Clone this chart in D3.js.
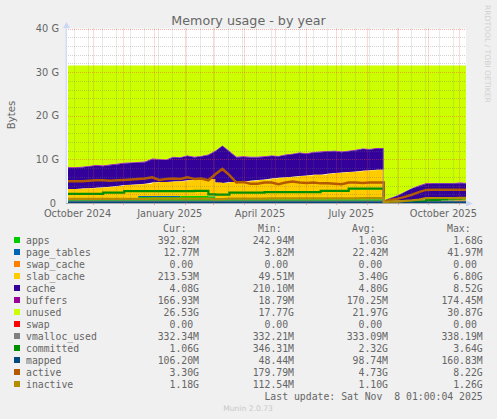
<!DOCTYPE html>
<html><head><meta charset="utf-8">
<script src="https://cdn.jsdelivr.net/npm/d3@7"></script>
<style>html,body{margin:0;padding:0;background:#f0f0f0}svg{display:block}text{white-space:pre}</style>
</head><body><div id="c"></div>
<script>
const dates = ["2024-10-07","2024-10-14","2024-10-21","2024-10-28","2024-11-04","2024-11-11","2024-11-18","2024-11-25","2024-12-02","2024-12-09","2024-12-16","2024-12-23","2024-12-30","2025-01-06","2025-01-13","2025-01-20","2025-01-27","2025-02-03","2025-02-10","2025-02-17","2025-02-24","2025-03-03","2025-03-10","2025-03-17","2025-03-24","2025-03-31","2025-04-07","2025-04-14","2025-04-21","2025-04-28","2025-05-05","2025-05-12","2025-05-19","2025-05-26","2025-06-02","2025-06-09","2025-06-16","2025-06-23","2025-06-30","2025-07-07","2025-07-14","2025-07-21","2025-07-28","2025-08-04","2025-08-11","2025-08-18","2025-08-25","2025-09-01","2025-09-08","2025-09-15","2025-09-22","2025-09-29","2025-10-06","2025-10-13","2025-10-20","2025-10-27","2025-11-03","2025-11-08"];
// upper edges of the stacked bands, in GB
const appsTop = [.85,.85,.85,.85,.85,.85,.85,.85,.85,.85,1.35,1.35,1.35,1.35,1.35,1.35,1.6,1.6,1.6,1.6,1.5,.85,.85,.85,.85,.85,.85,.85,.85,.85,.85,.85,.85,.85,.85,.85,.85,.85,.85,.85,.85,.85,.85,.85,.85,.35,.3,.3,.3,.35,.4,.55,.55,.55,.55,.4,.4,.4];
const pageTablesTop = [.87,.87,.87,.87,.87,.87,.87,.87,.87,.87,1.58,1.58,1.58,1.58,1.58,1.58,1.62,1.62,1.62,1.62,1.52,.87,.87,.87,.87,.87,.87,.87,.87,.87,.87,.87,.87,.87,.87,.87,.87,.87,.87,.87,.87,.87,.87,.87,.87,.36,.31,.31,.31,.36,.41,.56,.56,.56,.56,.41,.41,.41];
const slabTop = [3.2,3.2,3.3,3.4,3.5,3.6,3.7,3.9,4.1,4.2,4.3,4.4,4.7,4.8,4.8,4.9,5.0,5.2,5.3,5.4,5.5,4.7,4.6,4.8,4.8,4.9,5.1,5.3,5.4,5.6,5.8,5.9,6.0,6.2,6.3,6.5,6.5,6.7,6.9,7.0,7.1,7.2,7.4,7.5,7.6,.5,.6,.6,.6,.7,.7,.9,.9,1.0,1.0,.9,.9,.8];
const buffersTop = [8.2,8.2,8.3,8.5,8.7,8.6,8.8,9.0,9.2,9.3,9.4,9.5,10.2,10.1,10.0,10.6,10.5,10.9,10.6,10.8,11.1,12.0,13.2,11.9,10.6,10.7,10.6,10.6,10.7,10.9,10.8,11.1,11.3,11.6,11.4,11.7,11.8,11.9,12.0,11.8,12.0,12.2,12.5,12.4,12.6,.6,1.2,1.8,2.6,3.4,4.0,4.5,4.6,4.6,4.6,4.6,4.7,4.6];
const cacheTop = [8.05,8.05,8.15,8.35,8.55,8.45,8.65,8.85,9.05,9.15,9.25,9.35,10.05,9.95,9.85,10.45,10.35,10.75,10.45,10.65,10.95,11.85,13.05,11.75,10.45,10.55,10.45,10.45,10.55,10.75,10.65,10.95,11.15,11.45,11.25,11.55,11.65,11.75,11.85,11.65,11.85,12.05,12.35,12.25,12.45,.55,1.1,1.7,2.5,3.3,3.85,4.35,4.45,4.45,4.45,4.45,4.55,4.45];
const unusedTop = [31.5];
const vmallocUsed = [.33];
const committed = [2.1,2.1,2.1,2.1,2.1,2.4,2.4,2.4,2.7,2.7,2.7,2.7,2.7,2.7,2.7,2.7,2.7,2.7,2.8,2.8,2.0,1.9,1.9,2.4,2.4,2.4,2.4,2.4,2.5,2.5,2.5,2.5,2.5,2.5,2.5,2.5,2.8,2.8,2.8,2.8,3.3,3.3,3.3,3.3,3.3,.2,.15,.15,.3,.3,.3,.7,.7,.9,1.0,1.0,1.06,1.06];
const mapped = [.11];
const active = [5.0,5.0,5.0,5.1,5.2,5.2,5.1,5.2,5.3,5.4,5.5,5.6,5.9,5.3,5.5,5.6,5.5,5.9,5.5,5.6,5.2,6.6,7.8,6.4,4.7,4.8,4.4,4.4,4.7,4.7,4.3,4.7,4.9,4.7,4.6,4.7,4.5,4.5,4.4,4.3,4.7,4.7,4.6,4.7,4.7,.3,.7,1.0,1.4,1.9,2.5,3.0,3.05,3.05,3.05,3.05,3.05,3.05];
const inactive = [.95,.95,.95,.95,.95,.95,.95,.95,.95,.95,.95,.95,1.0,1.0,1.0,1.0,1.0,1.0,1.0,1.0,1.0,.9,.9,1.0,1.0,1.0,1.0,1.0,1.0,1.05,1.05,1.05,1.05,1.05,1.05,1.05,1.05,1.05,1.05,1.05,1.05,1.05,1.1,1.1,1.1,.2,.3,.3,.5,.6,.8,1.1,1.15,1.15,1.15,1.15,1.18,1.18];
const yTicks = [0,10,20,30,40];
const yTickLabels = ["0\u00a0","10 G","20 G","30 G","40 G"];
const xLabelDates = ["2024-10-16","2025-01-16","2025-04-16","2025-07-16","2025-10-16"];
const xLabels = ["October 2024","January 2025","April 2025","July 2025","October 2025"];
const legendNames = ["apps","page_tables","swap_cache","slab_cache","cache","buffers","unused","swap","vmalloc_used","committed","mapped","active","inactive"];
const legendColors = ["#00cc00","#0066b3","#ff8000","#ffcc00","#330099","#990099","#ccff00","#ff0000","#808080","#008f00","#00487d","#b35a00","#b38f00"];
const curCol = ["392.82M","12.77M","0.00 ","213.53M","4.08G","166.93M","26.53G","0.00 ","332.34M","1.06G","106.20M","3.30G","1.18G"];
const minCol = ["242.94M","3.82M","0.00 ","49.51M","210.10M","18.79M","17.77G","0.00 ","332.21M","346.31M","48.44M","179.79M","112.54M"];
const avgCol = ["1.03G","22.42M","0.00 ","3.40G","4.80G","170.25M","21.97G","0.00 ","333.09M","2.32G","98.74M","4.73G","1.10G"];
const maxCol = ["1.68G","41.97M","0.00 ","6.80G","8.52G","174.45M","30.87G","0.00 ","338.19M","3.64G","160.83M","8.22G","1.26G"];

const W=497,H=419,L=66,R=466,T=28.5,B=203,DROP=45;
const pd=d3.timeParse("%Y-%m-%d");
const t=dates.map(pd);
const x=d3.scaleTime().domain([pd("2024-10-05"),pd("2025-11-08")]).range([L,R]);
const y=d3.scaleLinear().domain([0,40]).range([B,T]);
const svg=d3.select("#c").append("svg").attr("width",W).attr("height",H).style("font-family","'DejaVu Sans'");
svg.append("rect").attr("width",W).attr("height",H).attr("fill","#f0f0f0");
svg.append("rect").attr("x",L).attr("y",T).attr("width",R-L).attr("height",B-T).attr("fill","#fff");
const g=svg.append("g");
// points joined by straight segments; the August drop is kept vertical
const pts=[];
t.forEach((d,i)=>{ if(i===DROP) pts.push({d,i:i-1}); pts.push({d,i}); });
const val=(a,i)=>a[a.length>1?i:0];
const band=(lo,hi,c,curve)=>{
  const a=d3.area().x(p=>x(p.d)).y0(p=>y(lo?val(lo,p.i):0)).y1(p=>y(val(hi,p.i))).curve(curve);
  g.append("path").datum(pts).attr("d",a).attr("fill",c);
};
band(buffersTop,unusedTop,legendColors[6],d3.curveLinear);
band(cacheTop,buffersTop,legendColors[5],d3.curveLinear);
band(slabTop,cacheTop,legendColors[4],d3.curveLinear);
band(pageTablesTop,slabTop,legendColors[3],d3.curveStepAfter);
band(appsTop,pageTablesTop,legendColors[1],d3.curveStepAfter);
band(null,appsTop,legendColors[0],d3.curveStepAfter);
const line=(v,c,curve,w)=>{
  const l=d3.line().x(p=>x(p.d)).y(p=>y(val(v,p.i))).curve(curve);
  g.append("path").datum(pts).attr("d",l).attr("fill","none").attr("stroke",c).attr("stroke-width",w);
};
line(vmallocUsed,legendColors[8],d3.curveLinear,2);
line(committed,legendColors[9],d3.curveStepAfter,2.2);
line(mapped,legendColors[10],d3.curveLinear,2);
line(active,legendColors[11],d3.curveLinear,2.5);
line(inactive,legendColors[12],d3.curveLinear,2.2);
g.append("line").attr("x1",x(t[DROP])-.5).attr("x2",x(t[DROP])-.5).attr("y1",y(buffersTop[DROP-1])).attr("y2",B).attr("stroke","#999").attr("stroke-opacity",.7);

// grid
const grid=svg.append("g").attr("fill","none").attr("stroke-width",1).attr("stroke-dasharray","1,1");
const gray="rgba(110,110,110,.3)", red="rgba(240,70,60,.42)";
d3.range(0,41,2).filter(v=>v%10).forEach(v=>grid.append("line").attr("x1",L).attr("x2",R).attr("y1",Math.round(y(v))+.5).attr("y2",Math.round(y(v))+.5).attr("stroke",gray));
d3.timeDay.range(pd("2024-10-13"),pd("2025-11-08"),14).forEach(d=>grid.append("line").attr("x1",Math.round(x(d))+.5).attr("x2",Math.round(x(d))+.5).attr("y1",T).attr("y2",B).attr("stroke",gray));
yTicks.slice(1).forEach(v=>grid.append("line").attr("x1",L).attr("x2",R).attr("y1",Math.round(y(v))+.5).attr("y2",Math.round(y(v))+.5).attr("stroke",red));
const months=d3.timeMonth.range(pd("2024-11-01"),pd("2025-11-08"));
months.forEach(d=>grid.append("line").attr("x1",Math.round(x(d))+.5).attr("x2",Math.round(x(d))+.5).attr("y1",T).attr("y2",B).attr("stroke",red));

// month ticks under the plot
months.forEach(d=>svg.append("line").attr("x1",Math.round(x(d))+.5).attr("x2",Math.round(x(d))+.5).attr("y1",B).attr("y2",B+2).attr("stroke","#e9a0a0"));

// axes
const ya=d3.axisLeft(y).tickValues(yTicks).tickFormat((d,i)=>yTickLabels[i]).tickSize(0).tickPadding(7);
const yg=svg.append("g").attr("transform",`translate(${L},0)`).call(ya);
yg.select(".domain").remove();
yg.selectAll("text").attr("fill","#666").style("font-size","9.8px").style("font-family","'DejaVu Sans'");
const xa=d3.axisBottom(x).tickValues(xLabelDates.map(pd)).tickFormat((d,i)=>xLabels[i]).tickSize(0).tickPadding(7);
const xg=svg.append("g").attr("transform",`translate(0,${B})`).call(xa);
xg.select(".domain").remove();
xg.selectAll("text").attr("fill","#666").style("font-size","9.8px").style("font-family","'DejaVu Sans'");

svg.append("rect").attr("x",L-.5).attr("y",24).attr("width",1.5).attr("height",B-24).attr("fill","#d5dcf5");
svg.append("path").attr("d",`M${L-3},28L${L+.5},22L${L+4},28Z`).attr("fill","#ccd6f5");
svg.append("line").attr("x1",L).attr("x2",R+3).attr("y1",B+.5).attr("y2",B+.5).attr("stroke","#aaa");
svg.append("path").attr("d",`M${R},${B-2.5}L${R+7},${B+.5}L${R},${B+3.5}Z`).attr("fill","#ccd6f5");

svg.append("text").attr("x",248.5).attr("y",24.5).attr("text-anchor","middle").attr("fill","#666").style("font-size","12.7px").text("Memory usage - by year");
svg.append("text").attr("transform","translate(15,115) rotate(-90)").attr("text-anchor","middle").attr("fill","#666").style("font-size","10.2px").text("Bytes");
svg.append("text").attr("transform","translate(485,5) rotate(90)").attr("fill","#d0d0d0").style("font-size","7.6px").text("RRDTOOL / TOBI OETIKER");

// legend
const mono="'DejaVu Sans Mono'";
const colEnds=[199,294,388,482.7];
const heads=["Cur:","Min:","Avg:","Max:"];
const headStart=[163,258,352,447];
const leg=svg.append("g").style("font-family",mono).style("font-size","9.8px").attr("fill","#666");
heads.forEach((h,i)=>leg.append("text").attr("x",headStart[i]).attr("y",231.5).text(h));
legendNames.forEach((n,i)=>{
  const yy=240+i*12;
  leg.append("rect").attr("x",14).attr("y",yy-3).attr("width",6).attr("height",6).attr("fill",legendColors[i]);
  leg.append("text").attr("x",26).attr("y",yy+3.5).text(n);
  [curCol,minCol,avgCol,maxCol].forEach((c,k)=>leg.append("text").attr("x",colEnds[k]).attr("y",yy+3.5).attr("text-anchor","end").text(c[i].replace(" ","\u00a0")));
});
leg.append("text").attr("x",482.7).attr("y",399.5).attr("text-anchor","end").text("Last update: Sat Nov  8 01:00:04 2025");
svg.append("text").attr("x",248).attr("y",411).attr("text-anchor","middle").attr("fill","#c8c8c8").style("font-size","7.6px").text("Munin 2.0.73");
</script></body></html>
